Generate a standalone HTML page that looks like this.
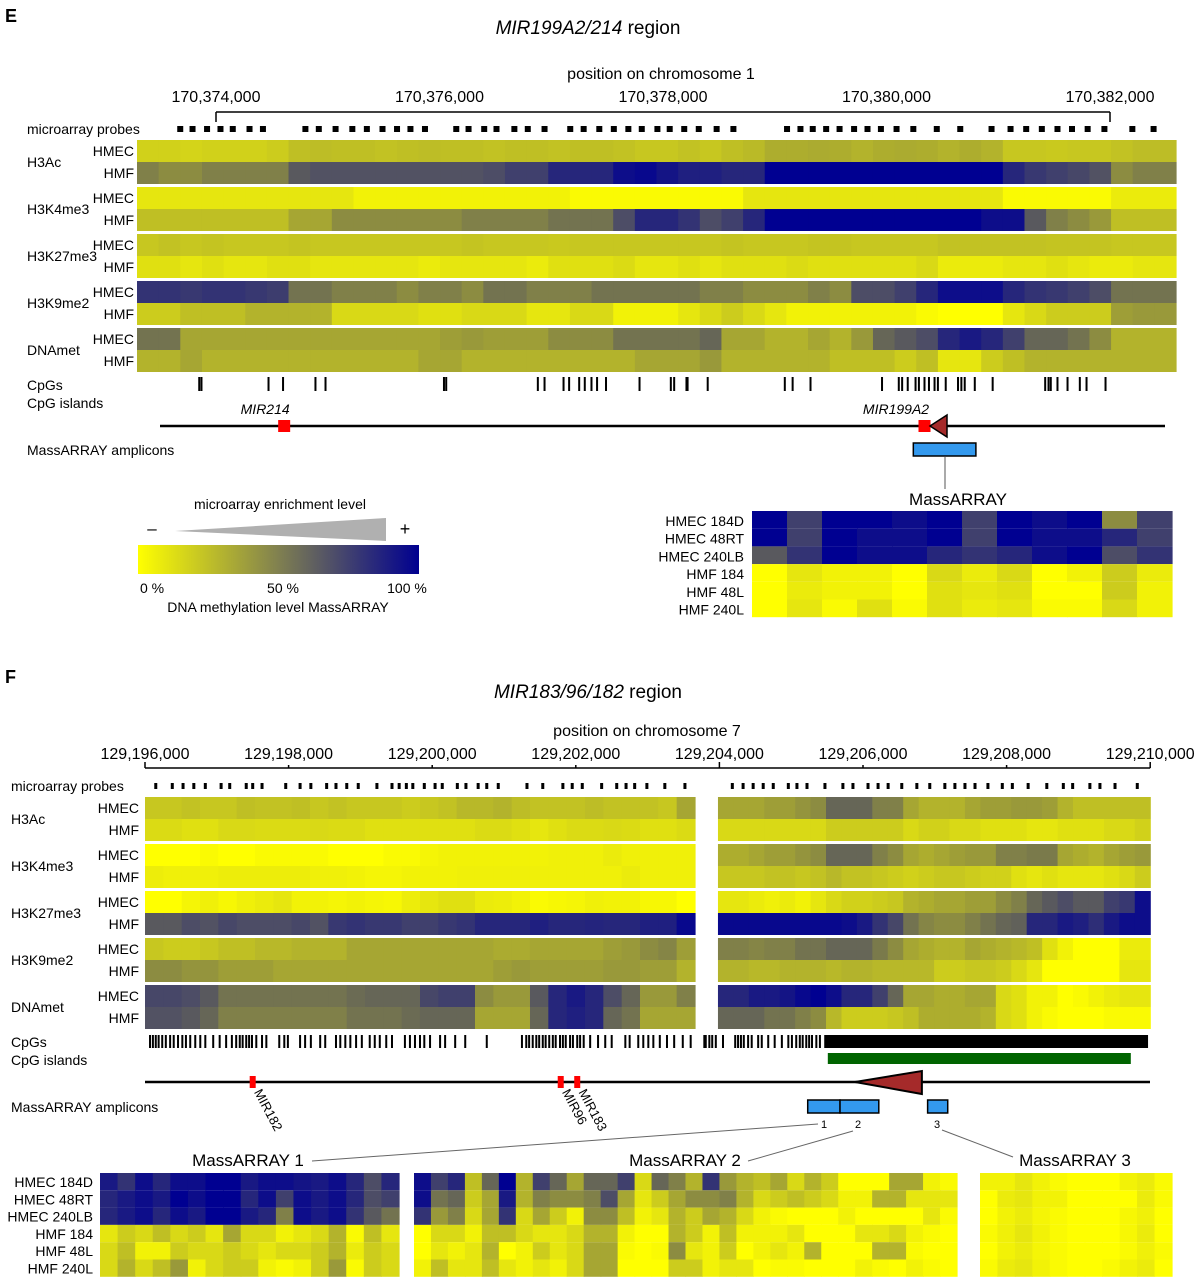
<!DOCTYPE html>
<html><head><meta charset="utf-8"><style>
html,body{margin:0;padding:0;background:#fff}
svg{display:block;font-family:"Liberation Sans",Arial,sans-serif}
</style></head><body>
<svg id="fig" width="1198" height="1280" viewBox="0 0 1198 1280" xmlns="http://www.w3.org/2000/svg">
<defs>
<linearGradient id="cbar" x1="0" x2="1" y1="0" y2="0"><stop offset="0" stop-color="#ffff00"/><stop offset="0.5" stop-color="#808050"/><stop offset="1" stop-color="#000090"/></linearGradient>
</defs>
<text x="5" y="22" font-size="18" font-weight="bold">E</text>
<text x="588" y="34" font-size="19" text-anchor="middle"><tspan font-style="italic">MIR199A2/214</tspan> region</text>
<text x="661" y="79" font-size="16" text-anchor="middle">position on chromosome 1</text>
<text x="5" y="683" font-size="18" font-weight="bold">F</text>
<text x="588" y="698" font-size="19" text-anchor="middle"><tspan font-style="italic">MIR183/96/182</tspan> region</text>
<text x="647" y="736" font-size="16" text-anchor="middle">position on chromosome 7</text>
<g id="root"></g>
</svg>
<script>
// ---------- data ----------
var eTicks = [374, 376, 378, 380, 382];
var eTickLabels = ["170,374,000","170,376,000","170,378,000","170,380,000","170,382,000"];
var fTicks = [196,198,200,202,204,206,208,210];
var fTickLabels = ["129,196,000","129,198,000","129,200,000","129,202,000","129,204,000","129,206,000","129,208,000","129,210,000"];
var marks = ["H3Ac","H3K4me3","H3K27me3","H3K9me2","DNAmet"];
var eProbes = [373.68,373.79,373.92,374.04,374.15,374.30,374.42,374.80,374.92,375.07,375.22,375.35,375.49,375.62,375.74,375.87,376.15,376.26,376.40,376.51,376.67,376.79,376.94,377.17,377.29,377.43,377.56,377.69,377.81,377.95,378.06,378.19,378.32,378.48,378.63,379.11,379.23,379.34,379.46,379.58,379.71,379.83,379.95,380.09,380.24,380.45,380.66,380.94,381.11,381.25,381.39,381.53,381.66,381.80,381.95,382.20,382.39];
var eCpG = [373.85,373.87,374.47,374.60,374.89,374.98,376.04,376.06,376.88,376.94,377.11,377.16,377.25,377.30,377.36,377.41,377.49,377.79,378.07,378.10,378.21,378.22,378.40,379.09,379.16,379.32,379.96,380.11,380.14,380.19,380.26,380.29,380.34,380.38,380.43,380.46,380.53,380.64,380.67,380.70,380.79,380.95,381.42,381.45,381.47,381.53,381.62,381.73,381.79,381.96];
var eH3AcHMEC=[.18,.18,.17,.18,.18,.18,.2,.25,.26,.25,.25,.24,.25,.26,.25,.25,.24,.25,.25,.24,.25,.25,.24,.22,.22,.24,.22,.25,.27,.32,.32,.33,.32,.3,.32,.33,.32,.3,.32,.3,.22,.22,.21,.22,.22,.24,.26,.26];
var eH3AcHMF=[.5,.45,.45,.5,.5,.5,.5,.65,.68,.68,.68,.68,.68,.68,.68,.68,.7,.75,.75,.85,.85,.85,.95,.97,.92,.88,.88,.85,.85,1,1,1,1,1,1,1,1,1,1,1,.85,.78,.75,.72,.68,.45,.5,.5];
var eK4HMEC=[.1,.1,.1,.1,.1,.1,.1,.1,.1,.1,.05,.05,.05,.05,.05,.05,.05,.05,.05,.05,.02,.02,.02,.02,.02,.02,.02,.02,.1,.1,.1,.1,.1,.1,.1,.1,.1,.1,.1,.1,.02,.02,.02,.02,.02,.08,.08,.08];
var eK4HMF=[.25,.25,.25,.25,.25,.25,.25,.35,.35,.45,.45,.45,.45,.45,.45,.5,.5,.5,.5,.55,.55,.55,.7,.85,.85,.8,.7,.75,.85,1,1,1,1,1,1,1,1,1,1,.95,.95,.65,.5,.45,.4,.25,.25,.25];
var eK27HMEC=[.22,.24,.22,.23,.22,.22,.22,.23,.22,.22,.22,.22,.22,.22,.22,.23,.22,.22,.22,.21,.22,.22,.22,.22,.22,.22,.22,.23,.22,.22,.22,.23,.23,.22,.22,.22,.22,.24,.24,.24,.24,.24,.23,.23,.23,.22,.22,.22];
var eK27HMF=[.12,.12,.1,.12,.1,.1,.12,.12,.1,.1,.1,.1,.1,.08,.1,.1,.1,.1,.08,.12,.12,.12,.14,.1,.1,.12,.1,.12,.12,.12,.14,.12,.12,.12,.12,.12,.15,.08,.08,.08,.1,.1,.12,.1,.08,.08,.1,.1];
var eK9HMEC=[.8,.8,.78,.8,.8,.78,.76,.55,.55,.5,.5,.5,.45,.5,.5,.45,.55,.55,.5,.5,.5,.55,.55,.55,.55,.55,.5,.5,.45,.45,.45,.5,.45,.7,.7,.75,.85,.95,.95,.95,.85,.8,.78,.75,.7,.55,.55,.55];
var eK9HMF=[.2,.2,.25,.25,.25,.3,.3,.3,.3,.15,.15,.15,.15,.12,.12,.15,.15,.15,.1,.1,.15,.15,.05,.05,.05,.1,.15,.2,.15,.1,.05,.05,.05,.05,.05,.05,.02,0,0,0,.1,.15,.2,.2,.2,.38,.4,.4];
var eDNAHMEC=[.55,.55,.35,.35,.35,.35,.35,.35,.35,.35,.35,.35,.35,.35,.38,.4,.38,.38,.38,.45,.45,.45,.55,.55,.55,.55,.6,.35,.35,.3,.3,.35,.3,.4,.6,.65,.7,.85,.9,.85,.75,.6,.6,.55,.45,.3,.3,.3];
var eDNAHMF=[.3,.3,.35,.3,.3,.3,.3,.3,.3,.3,.3,.3,.3,.35,.35,.3,.3,.3,.3,.3,.3,.3,.3,.35,.35,.35,.4,.3,.3,.3,.3,.3,.25,.25,.25,.2,.25,.1,.1,.2,.25,.3,.3,.3,.3,.3,.3,.3];
var eMassLabels = ["HMEC 184D","HMEC 48RT","HMEC 240LB","HMF 184","HMF 48L","HMF 240L"];
var eMass184D=[1,.75,1,1,.95,1,.75,1,.95,1,.45,.75];
var eMass48RT=[1,.75,1,.95,.95,1,.75,1,.95,.95,.85,.75];
var eMass240LB=[.65,.8,1,.95,.95,.85,.8,.85,.95,1,.7,.8];
var eMassH184=[0,.1,.05,.05,0,.15,.08,.15,0,.05,.2,.08];
var eMassH48L=[0,.08,.05,.05,0,.12,.1,.12,0,0,.2,.05];
var eMassH240L=[0,.1,.02,.12,.02,.12,.08,.1,.02,.02,.15,.05];

var fProbes=[196.15,196.38,196.53,196.68,196.84,197.06,197.18,197.41,197.50,197.63,197.96,198.16,198.31,198.53,198.66,198.81,198.97,199.23,199.44,199.54,199.64,199.73,199.89,200.04,200.14,200.35,200.47,200.64,200.76,200.92,201.32,201.54,201.82,201.95,202.09,202.36,202.57,202.70,202.82,202.99,203.24,203.52,204.18,204.33,204.47,204.61,204.75,204.96,205.08,205.22,205.47,205.72,205.86,206.07,206.21,206.35,206.54,206.75,206.93,207.14,207.28,207.42,207.56,207.74,207.94,208.08,208.30,208.56,208.79,208.92,209.16,209.30,209.51,209.82];
var fCpG=[196.07,196.11,196.15,196.19,196.24,196.29,196.35,196.40,196.46,196.52,196.57,196.63,196.70,196.77,196.84,196.95,197.04,197.13,197.21,197.27,197.32,197.36,197.41,197.45,197.49,197.55,197.63,197.69,197.87,197.94,197.99,198.16,198.23,198.31,198.44,198.51,198.66,198.72,198.79,198.86,198.94,199.02,199.13,199.20,199.27,199.36,199.44,199.62,199.69,199.76,199.83,199.89,199.97,200.11,200.18,200.32,200.46,200.76,201.25,201.31,201.35,201.40,201.45,201.49,201.54,201.58,201.63,201.68,201.72,201.78,201.82,201.86,201.92,201.96,202.02,202.06,202.11,202.20,202.31,202.41,202.50,202.69,202.75,202.87,202.94,203.01,203.08,203.17,203.27,203.37,203.49,203.60,203.79,203.81,203.86,203.90,203.95,204.05,204.22,204.26,204.30,204.34,204.40,204.45,204.54,204.59,204.68,204.77,204.87,204.96,205.01,205.07,205.12,205.16,205.21,205.25,205.29,205.35,205.40];
var fCpGDense=[[205.46,209.97]];
var fCpGIsland=[[205.51,209.73]];
var fH3AcHMEC=[.22,.22,.24,.22,.22,.25,.24,.24,.25,.22,.24,.22,.22,.22,.2,.22,.24,.28,.28,.3,.26,.24,.24,.24,.26,.24,.24,.24,.22,.35];
var fH3AcHMF=[.14,.14,.12,.12,.15,.15,.14,.14,.14,.15,.14,.14,.12,.12,.12,.12,.12,.12,.14,.14,.12,.1,.12,.14,.14,.15,.14,.12,.12,.14];
var fK4HMEC=[0,0,0,.02,0,0,.02,.02,.02,.02,0,0,0,.02,.02,.04,.05,.05,.05,.05,.05,.05,.06,.06,.06,.08,.06,.06,.06,.06];
var fK4HMF=[.07,.06,.06,.06,.07,.07,.07,.07,.07,.06,.06,.05,.04,.04,.05,.05,.05,.06,.06,.06,.06,.06,.06,.06,.06,.06,.08,.06,.06,.06];
var fK27HMEC=[0,0,.04,.06,.03,.06,.08,.1,.05,.05,.04,.05,.04,.03,.07,.1,.12,.12,.08,.07,.05,.02,.03,.04,.06,.05,.05,.03,.03,0];
var fK27HMF=[.65,.65,.7,.68,.72,.7,.7,.7,.72,.68,.78,.8,.78,.78,.75,.75,.78,.8,.85,.85,.85,.88,.85,.85,.86,.85,.85,.88,.88,.97];
var fK9HMEC=[.22,.2,.2,.22,.25,.25,.28,.28,.3,.3,.3,.35,.35,.35,.35,.35,.35,.35,.35,.33,.33,.35,.35,.35,.35,.38,.4,.45,.48,.38];
var fK9HMF=[.45,.45,.42,.42,.38,.38,.38,.35,.35,.35,.35,.35,.35,.35,.35,.35,.35,.35,.35,.38,.4,.38,.38,.38,.38,.4,.4,.38,.38,.3];
var fDNAHMEC=[.72,.72,.7,.65,.55,.55,.55,.55,.55,.55,.55,.58,.6,.6,.6,.72,.75,.75,.45,.4,.4,.65,.85,.9,.85,.7,.6,.4,.4,.5];
var fDNAHMF=[.68,.68,.65,.6,.5,.5,.5,.5,.5,.5,.5,.55,.55,.55,.58,.6,.6,.6,.35,.35,.35,.6,.85,.88,.85,.6,.55,.35,.35,.35];
var gH3AcHMEC=[.35,.35,.35,.38,.38,.42,.45,.6,.6,.6,.5,.5,.35,.3,.3,.3,.35,.38,.38,.4,.4,.38,.3,.25,.25,.25,.25,.25];
var gH3AcHMF=[.15,.15,.15,.15,.15,.15,.15,.2,.2,.2,.2,.2,.15,.18,.18,.15,.15,.12,.12,.12,.1,.1,.12,.12,.12,.15,.15,.18];
var gK4HMEC=[.32,.32,.35,.38,.38,.42,.45,.6,.6,.6,.5,.45,.35,.32,.35,.38,.4,.4,.5,.5,.52,.52,.35,.32,.3,.35,.38,.4];
var gK4HMF=[.22,.22,.22,.24,.24,.22,.24,.28,.24,.24,.22,.2,.18,.2,.22,.22,.2,.18,.18,.12,.1,.12,.1,.1,.1,.12,.15,.2];
var gK27HMEC=[.1,.1,.08,.06,.08,.05,.1,.15,.18,.18,.2,.22,.3,.32,.35,.35,.38,.38,.45,.5,.6,.65,.7,.65,.65,.75,.78,.95];
var gK27HMF=[.97,.97,.97,.97,.97,.97,.97,.97,.95,.9,.8,.72,.55,.48,.45,.45,.5,.55,.6,.62,.85,.85,.9,.88,.82,.9,.95,.95];
var gK9HMEC=[.5,.5,.48,.5,.5,.55,.55,.6,.6,.6,.52,.45,.35,.32,.3,.3,.35,.32,.3,.28,.25,.12,.05,0,0,0,.08,.08];
var gK9HMF=[.3,.3,.28,.28,.3,.3,.3,.28,.3,.3,.28,.28,.28,.28,.2,.2,.22,.22,.2,.15,.1,0,0,0,0,0,.1,.1];
var gDNAHMEC=[.85,.85,.9,.9,.92,.97,1,.95,.85,.85,.75,.6,.35,.35,.32,.32,.35,.35,.15,.12,.05,.05,0,.02,.05,.08,.1,.1];
var gDNAHMF=[.6,.6,.6,.55,.55,.5,.45,.28,.2,.2,.2,.22,.25,.32,.32,.32,.32,.3,.15,.12,.05,.02,0,0,0,.02,.02,.02];

var m1_184D=[.9,.8,.95,.85,.95,.95,1,1,.9,.95,.95,.92,.9,.95,.85,.7,.85];
var m1_48RT=[.85,.9,.95,.9,1,.95,1,1,.85,.95,.75,.95,.9,.95,.85,.7,.75];
var m1_240LB=[.85,.9,.95,.85,.95,.9,1,1,.9,.85,.5,.95,.9,.95,.8,.65,.55];
var m1_H184=[.1,.2,.15,.25,.15,.2,.1,.35,.15,.15,.05,.1,.15,.3,.02,.25,.1];
var m1_H48L=[.15,.25,.05,.05,.2,.15,.15,.2,.15,.1,.15,.15,.2,.3,.08,.2,.15];
var m1_H240L=[.15,.3,.15,.25,.4,.05,.15,.2,.2,.05,.02,.05,.2,.4,.02,.2,.15];
var m2_184D=[.95,.75,.85,.25,.6,1,.3,.75,.6,.35,.6,.6,.75,.15,.6,.5,.3,.8,.4,.3,.25,.35,.15,.3,.2,0,0,0,.35,.35,.05,.02];
var m2_48RT=[.95,.55,.6,.2,.35,.9,.3,.5,.45,.45,.5,.7,.35,.1,.2,.35,.45,.45,.5,.3,.15,.2,.25,.2,.15,.05,.05,.3,.3,.1,.1,.1];
var m2_240LB=[.8,.4,.5,.15,.35,.8,.15,.35,.2,.05,.45,.45,.25,.05,.1,.3,.2,.35,.3,.15,.05,.02,0,0,0,.05,0,0,0,0,.1,.02];
var m2_H184=[0,.15,.15,.05,.25,.25,.15,.1,.1,.15,.3,.3,.05,0,0,.3,.2,.05,.25,.05,.05,.05,.1,0,0,0,.1,.1,.15,.05,.02,0];
var m2_H48L=[0,.1,.05,.1,.3,0,.05,.2,.1,.15,.35,.35,.02,0,.02,.45,.1,.05,.2,0,.05,.1,.05,.3,0,0,0,.3,.3,.02,0,0];
var m2_H240L=[.05,.25,.1,.1,.25,.1,.05,.1,.05,.15,.35,.35,0,0,0,.2,.2,.05,.1,.1,0,.02,.02,0,0,0,.05,.02,0,.05,.02,0];
var m3_184D=[.05,.05,.1,.05,.02,0,0,0,.05,.08,.02];
var m3_48RT=[0,.08,.1,.05,.05,0,0,0,0,.08,.02];
var m3_240LB=[0,.05,.08,.04,.02,0,0,0,.03,.06,0];
var m3_H184=[.02,.06,.1,.05,.02,0,0,0,.03,.08,0];
var m3_H48L=[0,.05,.08,.04,.02,0,0,0,.02,.06,.02];
var m3_H240L=[.02,.08,.1,.05,.02,0,0,.02,.05,.08,0];

// ---------- helpers ----------
var NS="http://www.w3.org/2000/svg";
var root=document.getElementById('root');
function el(tag,attrs,parent){var e=document.createElementNS(NS,tag);for(var k in attrs)e.setAttribute(k,attrs[k]);(parent||root).appendChild(e);return e;}
function txt(x,y,s,size,anchor,parent){var t=el('text',{x:x,y:y,'font-size':size,'text-anchor':anchor||'start'},parent);t.textContent=s;return t;}
function col(v){v=Math.max(0,Math.min(1,v));var r=Math.round(255*(1-v)),g=Math.round(255*(1-v)),b=Math.round(145*v);return 'rgb('+r+','+g+','+b+')';}
// axis functions (kb -> px)
function xE(kb){return 216+(kb-374)*111.75;}
function xF(kb){return 145+(kb-196)*71.8;}
var eStart=373.293,eEnd=382.59, fLs=196.0,fLe=203.66, fRs=203.98,fRe=210.0;

function heatRow(parent,x0,x1,y,h,vals,name){
  var g=el('g',{},parent);
  
  
  var w=(x1-x0)/vals.length;
  vals.forEach(function(v,i){
    var r=el('rect',{x:(x0+i*w).toFixed(2),y:y,width:(w+0.6).toFixed(2),height:h,fill:col(v)},g);
    
    
  });
}

// ---------- Panel E ----------
var gE=el('g',{});


el('line',{x1:xE(374),y1:112,x2:xE(382),y2:112,stroke:'#000','stroke-width':1.5},gE);
el('line',{x1:xE(374),y1:112,x2:xE(374),y2:122,stroke:'#000','stroke-width':1.5},gE);
el('line',{x1:xE(382),y1:112,x2:xE(382),y2:122,stroke:'#000','stroke-width':1.5},gE);
eTicks.forEach(function(t,i){var tt=txt(xE(t),102,eTickLabels[i],16,'middle',gE);
  
  });
txt(27,134,'microarray probes',14,'start',gE);
eProbes.forEach(function(p){var r=el('rect',{x:xE(p)-3,y:126,width:6,height:6,fill:'#000'},gE);
  
  });
var eRows=[[eH3AcHMEC,eH3AcHMF],[eK4HMEC,eK4HMF],[eK27HMEC,eK27HMF],[eK9HMEC,eK9HMF],[eDNAHMEC,eDNAHMF]];
eRows.forEach(function(pair,k){
  var y=140+47*k;
  heatRow(gE,137,1176,y,22,pair[0],'e-'+marks[k].toLowerCase()+'-hmec');
  heatRow(gE,137,1176,y+22,22,pair[1],'e-'+marks[k].toLowerCase()+'-hmf');
  txt(27,y+27,marks[k],14,'start',gE);
  txt(134,y+16,'HMEC',14,'end',gE);
  txt(134,y+38,'HMF',14,'end',gE);
});
txt(27,390,'CpGs',14,'start',gE);
txt(27,408,'CpG islands',14,'start',gE);
eCpG.forEach(function(p){var r=el('rect',{x:xE(p)-1,y:377,width:2,height:14,fill:'#000'},gE);
  
  });
el('line',{x1:160,y1:426,x2:1165,y2:426,stroke:'#000','stroke-width':2.5},gE);
var m214=el('rect',{x:xE(374.61)-6,y:420,width:12,height:12,fill:'#ff0000'},gE);


var t1=txt(xE(374.61)-19,414,'MIR214',14,'middle',gE);t1.setAttribute('font-style','italic');
var m199=el('rect',{x:xE(380.34)-6,y:420,width:12,height:12,fill:'#ff0000'},gE);


var t2=txt(896,414,'MIR199A2',14,'middle',gE);t2.setAttribute('font-style','italic');
var tri=el('polygon',{points:'930,426 947,415 947,437',fill:'#a52a2a',stroke:'#000','stroke-width':1.5},gE);


txt(27,455,'MassARRAY amplicons',14,'start',gE);
var amp=el('rect',{x:xE(380.24),y:443,width:xE(380.80)-xE(380.24),height:13,fill:'#3399ee',stroke:'#000','stroke-width':1.5},gE);


el('line',{x1:945,y1:457,x2:945,y2:489,stroke:'#555','stroke-width':1},gE);
txt(958,505,'MassARRAY',17,'middle',gE);
// legend
var leg=el('g',{},gE);


txt(280,509,'microarray enrichment level',14,'middle',leg);
txt(152,534,'\u2013',17,'middle',leg);
txt(405,535,'+',18,'middle',leg);
el('polygon',{points:'175,531 386,518 386,541',fill:'#b0b0b0'},leg);
el('rect',{x:138,y:545,width:281,height:29,fill:'url(#cbar)'},leg);
txt(152,593,'0 %',14,'middle',leg);txt(283,593,'50 %',14,'middle',leg);txt(407,593,'100 %',14,'middle',leg);
txt(278,612,'DNA methylation level MassARRAY',14,'middle',leg);
// MassARRAY E
var eMass=[eMass184D,eMass48RT,eMass240LB,eMassH184,eMassH48L,eMassH240L];
eMass.forEach(function(r,i){heatRow(gE,752,1172,511+17.7*i,17.7,r,'e-massarray-'+eMassLabels[i].toLowerCase().replace(/ /g,'-'));
  txt(744,526+17.7*i,eMassLabels[i],14,'end',gE);});

// ---------- Panel F ----------
var gF=el('g',{});


el('line',{x1:xF(196),y1:768,x2:xF(210),y2:768,stroke:'#000','stroke-width':1.5},gF);
fTicks.forEach(function(t,i){
  el('line',{x1:xF(t),y1:768,x2:xF(t),y2:(i==0||i==fTicks.length-1||i==4)?762:765,stroke:'#000','stroke-width':1.5},gF);
  var tt=txt(xF(t),759,fTickLabels[i],16,'middle',gF);
  
  });
txt(11,791,'microarray probes',14,'start',gF);
fProbes.forEach(function(p){var r=el('rect',{x:xF(p)-1.5,y:783,width:3,height:6,fill:'#000'},gF);
  
  });
var fRowsL=[[fH3AcHMEC,fH3AcHMF],[fK4HMEC,fK4HMF],[fK27HMEC,fK27HMF],[fK9HMEC,fK9HMF],[fDNAHMEC,fDNAHMF]];
var fRowsR=[[gH3AcHMEC,gH3AcHMF],[gK4HMEC,gK4HMF],[gK27HMEC,gK27HMF],[gK9HMEC,gK9HMF],[gDNAHMEC,gDNAHMF]];
fRowsL.forEach(function(pair,k){
  var y=797+47*k;
  heatRow(gF,xF(fLs),xF(fLe),y,22,pair[0],'f-'+marks[k].toLowerCase()+'-hmec-left');
  heatRow(gF,xF(fLs),xF(fLe),y+22,22,pair[1],'f-'+marks[k].toLowerCase()+'-hmf-left');
  heatRow(gF,xF(fRs),xF(fRe),y,22,fRowsR[k][0],'f-'+marks[k].toLowerCase()+'-hmec-right');
  heatRow(gF,xF(fRs),xF(fRe),y+22,22,fRowsR[k][1],'f-'+marks[k].toLowerCase()+'-hmf-right');
  txt(11,y+27,marks[k],14,'start',gF);
  txt(139,y+16,'HMEC',14,'end',gF);
  txt(139,y+38,'HMF',14,'end',gF);
});
txt(11,1047,'CpGs',14,'start',gF);
txt(11,1065,'CpG islands',14,'start',gF);
fCpG.forEach(function(p){var r=el('rect',{x:xF(p)-1,y:1035,width:2,height:13,fill:'#000'},gF);
  
  });
fCpGDense.forEach(function(d){var r=el('rect',{x:xF(d[0]),y:1035,width:xF(d[1])-xF(d[0]),height:13,fill:'#000'},gF);
  
  });
fCpGIsland.forEach(function(d){var r=el('rect',{x:xF(d[0]),y:1053,width:xF(d[1])-xF(d[0]),height:11,fill:'#006400'},gF);
  
  });
el('line',{x1:145,y1:1082,x2:1150,y2:1082,stroke:'#000','stroke-width':2.5},gF);
[['MIR182',197.50],['MIR96',201.79],['MIR183',202.02]].forEach(function(m){
  var x=xF(m[1]);
  var r=el('rect',{x:x-3,y:1076,width:6,height:12,fill:'#ff0000'},gF);
  
  
  var t=txt(x+1,1092,m[0],13,'start',gF);t.setAttribute('transform','rotate(62 '+(x+1)+' 1092)');
});
var triF=el('polygon',{points:xF(205.89)+',1082 '+xF(206.82)+',1071 '+xF(206.82)+',1094',fill:'#a52a2a',stroke:'#000','stroke-width':2},gF);


txt(11,1112,'MassARRAY amplicons',14,'start',gF);
[[205.23,205.68,'1'],[205.68,206.22,'2'],[206.90,207.18,'3']].forEach(function(a){
  var r=el('rect',{x:xF(a[0]),y:1100,width:xF(a[1])-xF(a[0]),height:13,fill:'#3399ee',stroke:'#000','stroke-width':1.5},gF);
  
  
});
txt(824,1128,'1',11,'middle',gF);txt(858,1128,'2',11,'middle',gF);txt(937,1128,'3',11,'middle',gF);
el('line',{x1:312,y1:1161,x2:818,y2:1124,stroke:'#666','stroke-width':1},gF);
el('line',{x1:748,y1:1161,x2:853,y2:1131,stroke:'#666','stroke-width':1},gF);
el('line',{x1:942,y1:1130,x2:1013,y2:1157,stroke:'#666','stroke-width':1},gF);
txt(248,1166,'MassARRAY 1',17,'middle',gF);
txt(685,1166,'MassARRAY 2',17,'middle',gF);
txt(1075,1166,'MassARRAY 3',17,'middle',gF);
var m1=[m1_184D,m1_48RT,m1_240LB,m1_H184,m1_H48L,m1_H240L];
var m2=[m2_184D,m2_48RT,m2_240LB,m2_H184,m2_H48L,m2_H240L];
var m3=[m3_184D,m3_48RT,m3_240LB,m3_H184,m3_H48L,m3_H240L];
for(var i=0;i<6;i++){
  var y=1173+17.3*i;
  heatRow(gF,100,399,y,17.3,m1[i],'f-massarray1-row');
  heatRow(gF,414,957,y,17.3,m2[i],'f-massarray2-row');
  heatRow(gF,980,1172,y,17.3,m3[i],'f-massarray3-row');
  txt(93,y+14,eMassLabels[i],14,'end',gF);
}
</script>
</body></html>
